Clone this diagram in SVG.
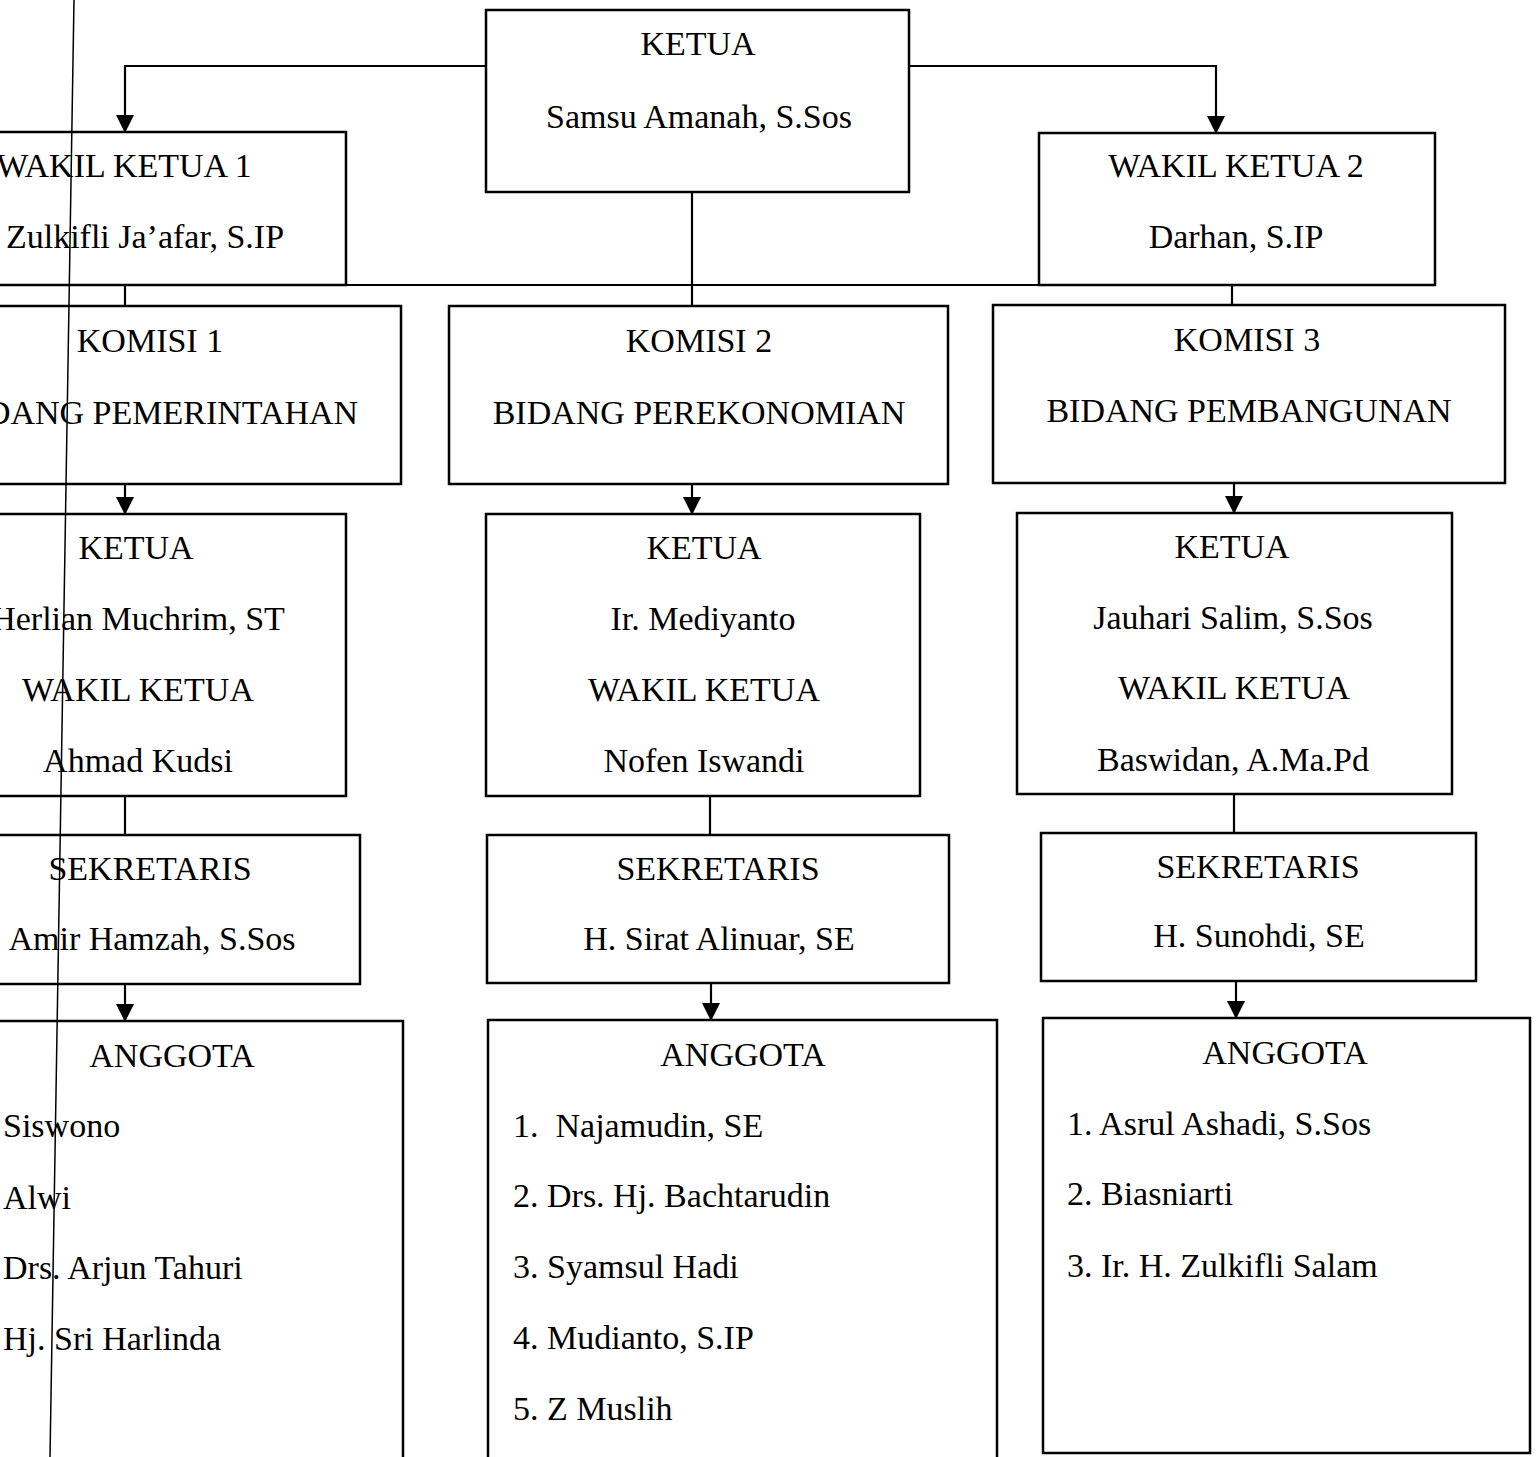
<svg xmlns="http://www.w3.org/2000/svg" width="1537" height="1457" viewBox="0 0 1537 1457">
<defs>
<marker id="arr" markerWidth="18" markerHeight="18" refX="17" refY="9" orient="auto" markerUnits="userSpaceOnUse">
<path d="M0,0 L18,9 L0,18 Z" fill="#000"/>
</marker>
<style>
.box{fill:#fff;stroke:#000;stroke-width:2.5}
.ln{fill:none;stroke:#000;stroke-width:2.2}
text{font-family:"Liberation Serif","Times New Roman",serif;font-size:34px;fill:#000}
.c{text-anchor:middle}
</style>
</defs>
<rect width="1537" height="1457" fill="#fff"/>

<g id="connectors">
<path class="ln" d="M486,66 H125 V132" marker-end="url(#arr)"/>
<path class="ln" d="M909,66 H1216 V133" marker-end="url(#arr)"/>
<path class="ln" d="M-5,285 H1039"/>
<path class="ln" d="M692,192 V306"/>
<path class="ln" d="M125,285 V306"/>
<path class="ln" d="M1232,285 V305"/>
<path class="ln" d="M125,484 V514" marker-end="url(#arr)"/>
<path class="ln" d="M692,484 V514" marker-end="url(#arr)"/>
<path class="ln" d="M1234,483 V513" marker-end="url(#arr)"/>
<path class="ln" d="M125,796 V835"/>
<path class="ln" d="M710,796 V835"/>
<path class="ln" d="M1234,794 V833"/>
<path class="ln" d="M125,984 V1021" marker-end="url(#arr)"/>
<path class="ln" d="M711,983 V1020" marker-end="url(#arr)"/>
<path class="ln" d="M1236,981 V1018" marker-end="url(#arr)"/>
</g>

<g id="ketua">
<rect class="box" x="486" y="10" width="423" height="182"/>
<text class="c" x="698" y="55">KETUA</text>
<text class="c" x="699" y="128">Samsu Amanah, S.Sos</text>
</g>

<g id="wakil-ketua-1">
<rect class="box" x="-20" y="132" width="366" height="153"/>
<text class="c" x="124" y="177">WAKIL KETUA 1</text>
<text class="c" x="145" y="248">Zulkifli Ja’afar, S.IP</text>
</g>

<g id="wakil-ketua-2">
<rect class="box" x="1039" y="133" width="396" height="152"/>
<text class="c" x="1236" y="177">WAKIL KETUA 2</text>
<text class="c" x="1236" y="248">Darhan, S.IP</text>
</g>

<g id="komisi-1">
<rect class="box" x="-20" y="306" width="421" height="178"/>
<text class="c" x="150" y="352">KOMISI 1</text>
<text class="c" x="155" y="424">BIDANG PEMERINTAHAN</text>
</g>

<g id="komisi-2">
<rect class="box" x="449" y="306" width="499" height="178"/>
<text class="c" x="699" y="352">KOMISI 2</text>
<text class="c" x="699" y="424">BIDANG PEREKONOMIAN</text>
</g>

<g id="komisi-3">
<rect class="box" x="993" y="305" width="512" height="178"/>
<text class="c" x="1247" y="351">KOMISI 3</text>
<text class="c" x="1249" y="422">BIDANG PEMBANGUNAN</text>
</g>

<g id="ketua-komisi-1">
<rect class="box" x="-20" y="514" width="366" height="282"/>
<text class="c" x="136" y="559">KETUA</text>
<text class="c" x="138" y="630">Herlian Muchrim, ST</text>
<text class="c" x="138" y="701">WAKIL KETUA</text>
<text class="c" x="138" y="772">Ahmad Kudsi</text>
</g>

<g id="ketua-komisi-2">
<rect class="box" x="486" y="514" width="434" height="282"/>
<text class="c" x="704" y="559">KETUA</text>
<text class="c" x="703" y="630">Ir. Mediyanto</text>
<text class="c" x="704" y="701">WAKIL KETUA</text>
<text class="c" x="704" y="772">Nofen Iswandi</text>
</g>

<g id="ketua-komisi-3">
<rect class="box" x="1017" y="513" width="435" height="281"/>
<text class="c" x="1232" y="558">KETUA</text>
<text class="c" x="1233" y="629">Jauhari Salim, S.Sos</text>
<text class="c" x="1234" y="699">WAKIL KETUA</text>
<text class="c" x="1233" y="771">Baswidan, A.Ma.Pd</text>
</g>

<g id="sekretaris-1">
<rect class="box" x="-20" y="835" width="380" height="149"/>
<text class="c" x="150" y="880">SEKRETARIS</text>
<text class="c" x="152" y="950">Amir Hamzah, S.Sos</text>
</g>

<g id="sekretaris-2">
<rect class="box" x="487" y="835" width="462" height="148"/>
<text class="c" x="718" y="880">SEKRETARIS</text>
<text class="c" x="719" y="950">H. Sirat Alinuar, SE</text>
</g>

<g id="sekretaris-3">
<rect class="box" x="1041" y="833" width="435" height="148"/>
<text class="c" x="1258" y="878">SEKRETARIS</text>
<text class="c" x="1259" y="947">H. Sunohdi, SE</text>
</g>

<g id="anggota-1">
<rect class="box" x="-20" y="1021" width="423" height="450"/>
<text class="c" x="172" y="1067">ANGGOTA</text>
<text x="3" y="1137">Siswono</text>
<text x="3" y="1209">Alwi</text>
<text x="3" y="1279">Drs. Arjun Tahuri</text>
<text x="3" y="1350">Hj. Sri Harlinda</text>
</g>

<g id="anggota-2">
<rect class="box" x="488" y="1020" width="509" height="450"/>
<text class="c" x="743" y="1066">ANGGOTA</text>
<text x="513" y="1137" xml:space="preserve">1.  Najamudin, SE</text>
<text x="513" y="1207">2. Drs. Hj. Bachtarudin</text>
<text x="513" y="1278">3. Syamsul Hadi</text>
<text x="513" y="1349">4. Mudianto, S.IP</text>
<text x="513" y="1420">5. Z Muslih</text>
</g>

<g id="anggota-3">
<rect class="box" x="1043" y="1018" width="487" height="435"/>
<text class="c" x="1285" y="1064">ANGGOTA</text>
<text x="1067" y="1135">1. Asrul Ashadi, S.Sos</text>
<text x="1067" y="1205">2. Biasniarti</text>
<text x="1067" y="1277">3. Ir. H. Zulkifli Salam</text>
</g>

<line x1="74" y1="0" x2="50" y2="1457" stroke="#000" stroke-width="1.5"/>
</svg>
